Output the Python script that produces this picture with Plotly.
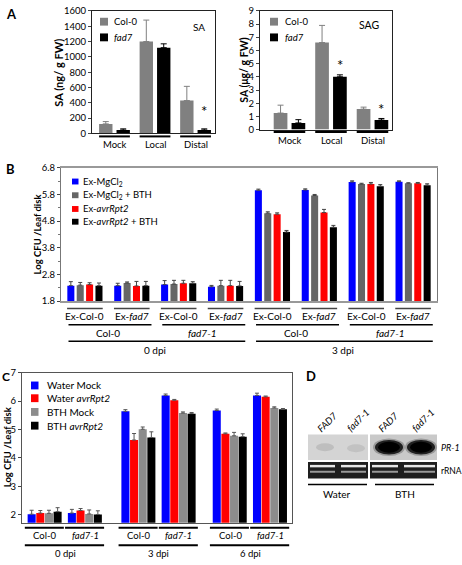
import plotly.graph_objects as go

W, H = 462, 565
FONT = "Lato"


def px(x):
    return x / W


def py(y):
    return 1 - y / H


# ---------------- Panel A data ----------------
a_groups = ["Mock", "Local", "Distal"]
a_series = ["Col-0", "<i>fad7</i>"]
sa_col0 = [125, 1200, 430]
sa_col0_err = [30, 280, 185]
sa_fad7 = [45, 1120, 45]
sa_fad7_err = [15, 50, 15]
sag_col0 = [1.25, 6.6, 1.55]
sag_col0_err = [0.6, 1.3, 0.15]
sag_fad7 = [0.5, 4.0, 0.72]
sag_fad7_err = [0.25, 0.15, 0.12]

# ---------------- Panel B data ----------------
b_series = ["Ex-MgCl<sub>2</sub>", "Ex-MgCl<sub>2</sub> + BTH",
            "Ex-<i>avrRpt2</i>", "Ex-<i>avrRpt2</i> + BTH"]
b_exudate = ["Ex-Col-0", "Ex-<i>fad7</i>"] * 4
b_hosts = ["Col-0", "<i>fad7-1</i>", "Col-0", "<i>fad7-1</i>"]
b_dpi = ["0 dpi", "3 dpi"]
b_mgcl2 = [2.38, 2.38, 2.42, 2.34, 5.96, 5.97, 6.27, 6.28]
b_mgcl2_err = [0.15, 0.09, 0.15, 0.05, 0.04, 0.04, 0.04, 0.03]
b_mgcl2_bth = [2.40, 2.48, 2.44, 2.38, 5.10, 5.76, 6.19, 6.22]
b_mgcl2_bth_err = [0.10, 0.04, 0.14, 0.20, 0.05, 0.04, 0.03, 0.02]
b_avr = [2.42, 2.37, 2.47, 2.38, 5.06, 5.12, 6.19, 6.22]
b_avr_err = [0.07, 0.17, 0.11, 0.20, 0.05, 0.12, 0.06, 0.03]
b_avr_bth = [2.38, 2.38, 2.47, 2.37, 4.39, 4.57, 6.11, 6.15]
b_avr_bth_err = [0.10, 0.16, 0.06, 0.17, 0.06, 0.07, 0.06, 0.05]
b_ticks = [1.8, 2.8, 3.8, 4.8, 5.8, 6.8]

# ---------------- Panel C data ----------------
c_series = ["Water Mock", "Water <i>avrRpt2</i>", "BTH Mock", "BTH <i>avrRpt2</i>"]
c_hosts = ["Col-0", "<i>fad7-1</i>"] * 3
c_dpi = ["0 dpi", "3 dpi", "6 dpi"]
c_water_mock = [2.02, 2.06, 5.64, 6.20, 5.67, 6.20]
c_water_mock_err = [0.14, 0.13, 0.06, 0.05, 0.05, 0.08]
c_water_avr = [2.06, 2.15, 4.63, 6.03, 4.85, 6.15]
c_water_avr_err = [0.09, 0.07, 0.23, 0.03, 0.03, 0.03]
c_bth_mock = [2.05, 2.03, 5.01, 5.58, 4.78, 5.76]
c_bth_mock_err = [0.11, 0.14, 0.08, 0.04, 0.12, 0.04]
c_bth_avr = [2.11, 2.01, 4.72, 5.56, 4.75, 5.71]
c_bth_avr_err = [0.14, 0.13, 0.20, 0.04, 0.10, 0.03]

# ---------------- Panel D labels ----------------
d_lanes = ["FAD7", "fad7-1", "FAD7", "fad7-1"]
d_treat = ["Water", "BTH"]
d_probes = ["<i>PR-1</i>", "rRNA"]

# ---------------- layout positions (not data) ----------------
a_pos = [0, 1, 2]
b_pos = list(range(8))
c_pos = [0, 1, 2.33, 3.33, 4.6, 5.6]

fig = go.Figure()


def err(arr, color, width):
    return dict(type="data", symmetric=False, array=arr, arrayminus=[0] * len(arr),
                color=color, thickness=1, width=width, visible=True)


# Panel A bars
A_W = 0.33
A_OFF = [-0.38, 0.05]
for xa, ya, vals, errs in [("x", "y", [sa_col0, sa_fad7], [sa_col0_err, sa_fad7_err]),
                           ("x2", "y2", [sag_col0, sag_fad7], [sag_col0_err, sag_fad7_err])]:
    colors = ["#808080", "#000000"]
    ecol = ["#808080", "#000000"]
    for i in range(2):
        fig.add_trace(go.Bar(x=a_pos, y=vals[i], width=A_W, offset=A_OFF[i],
                             marker=dict(color=colors[i], line=dict(width=0)),
                             error_y=err(errs[i], ecol[i], 3),
                             xaxis=xa, yaxis=ya, showlegend=False, name=a_series[i]))

# Panel B bars
B_W = 0.15
B_OFF = [-0.375, -0.175, 0.025, 0.225]
b_colors = ["#0000ff", "#666666", "#ff0000", "#000000"]
b_vals = [b_mgcl2, b_mgcl2_bth, b_avr, b_avr_bth]
b_errs = [b_mgcl2_err, b_mgcl2_bth_err, b_avr_err, b_avr_bth_err]
for i in range(4):
    fig.add_trace(go.Bar(x=b_pos, y=b_vals[i], width=B_W, offset=B_OFF[i],
                         marker=dict(color=b_colors[i], line=dict(width=0)),
                         error_y=err(b_errs[i], "#444444", 2),
                         xaxis="x3", yaxis="y3", showlegend=False, name=b_series[i]))

# Panel C bars
C_W = 0.2
C_OFF = [-0.43, -0.215, 0.0, 0.215]
c_colors = ["#0000ff", "#ff0000", "#8c8c8c", "#000000"]
c_vals = [c_water_mock, c_water_avr, c_bth_mock, c_bth_avr]
c_errs = [c_water_mock_err, c_water_avr_err, c_bth_mock_err, c_bth_avr_err]
for i in range(4):
    fig.add_trace(go.Bar(x=c_pos, y=c_vals[i], width=C_W, offset=C_OFF[i],
                         marker=dict(color=c_colors[i], line=dict(width=0)),
                         error_y=err(c_errs[i], "#555555", 2),
                         xaxis="x4", yaxis="y4", showlegend=False, name=c_series[i]))

shapes = []
ann = []


def text(x, y, s, size=10, xanchor="center", yanchor="middle", bold=False, angle=0,
         xref="paper", yref="paper", color="black"):
    if bold:
        s = "<b>" + s + "</b>"
    ann.append(dict(x=x, y=y, xref=xref, yref=yref, text=s, showarrow=False,
                    xanchor=xanchor, yanchor=yanchor, textangle=angle,
                    font=dict(family=FONT, size=size, color=color)))


def hline(x0, x1, y, xref="paper", color="#000", width=1.5):
    shapes.append(dict(type="line", x0=x0, x1=x1, y0=py(y), y1=py(y), xref=xref,
                       yref="paper", line=dict(color=color, width=width)))


def rect(x0, y0, x1, y1, color, line=None):
    shapes.append(dict(type="rect", x0=px(x0), x1=px(x1), y0=py(y1), y1=py(y0),
                       xref="paper", yref="paper", fillcolor=color,
                       line=dict(width=0) if line is None else line, layer="above"))


def ellipse(cx, cy, rx, ry, color, opacity=1.0):
    shapes.append(dict(type="circle", x0=px(cx - rx), x1=px(cx + rx), y0=py(cy + ry),
                       y1=py(cy - ry), xref="paper", yref="paper", fillcolor=color,
                       opacity=opacity, line=dict(width=0), layer="above"))


# Panel letters
text(px(4), py(8), "A", 13, "left", bold=True)
text(px(4), py(166), "B", 13, "left", bold=True)
text(px(0), py(378), "C", 12, "left", bold=True)
text(px(304), py(377), "D", 13, "left", bold=True)

# Panel A labels
for k, g in enumerate(a_groups):
    hline(a_pos[k] + A_OFF[0], a_pos[k] + A_OFF[1] + A_W, 133, xref="x", width=2)
    text(a_pos[k] + 0.02, py(141), g, 9.5, xref="x")
    hline(a_pos[k] + A_OFF[0], a_pos[k] + A_OFF[1] + A_W, 128.5, xref="x2", width=2)
    text(a_pos[k] + 0.02, py(137), g, 9.5, xref="x2")
text(px(59), py(68), "SA (ng/ g FW)", 11, bold=True, angle=-90)
text(px(244), py(66), "SA (\u03bcg/ g FW)", 10.5, bold=True, angle=-90)
text(px(199), py(21), "SA", 10)
text(px(369), py(19), "SAG", 10.5)
# asterisks
text(a_pos[2] + A_OFF[1] + A_W / 2, 150, "*", 15, xref="x", yref="y", yanchor="bottom")
text(a_pos[1] + A_OFF[1] + A_W / 2, 4.05, "*", 15, xref="x2", yref="y2", yanchor="bottom")
text(a_pos[2] + A_OFF[1] + A_W / 2, 0.72, "*", 15, xref="x2", yref="y2", yanchor="bottom")
# A legends
for lx, tx in [(100, 112), (270, 283)]:
    for j, (s, c) in enumerate(zip(a_series, ["#808080", "#000000"])):
        cy = 16 + 16 * j
        rect(lx, cy - 4, lx + 8, cy + 4, c)
        text(px(tx), py(cy), s, 9.5, "left")

# Panel B labels
for k in range(8):
    hline(b_pos[k] - 0.38, b_pos[k] + 0.38, 308.5, xref="x3", color="#444", width=1.5)
    text(b_pos[k], py(316.5), b_exudate[k], 10, xref="x3")
for k in range(4):
    a, b = b_pos[2 * k], b_pos[2 * k + 1]
    hline(a - 0.35, b + 0.42, 325, xref="x3", width=1.5)
    text((a + b) / 2, py(333.5), b_hosts[k], 10, xref="x3")
for k in range(2):
    a, b = b_pos[4 * k], b_pos[4 * k + 3]
    hline(a - 0.35, b + 0.42, 342, xref="x3", width=1.5)
    text((a + b) / 2, py(351), b_dpi[k], 10, xref="x3")
text(px(37), py(233), "Log CFU /Leaf disk", 9.5, bold=True, angle=-90)
for j, (s, c) in enumerate(zip(b_series, b_colors)):
    cy = [179, 193, 207, 220][j]
    rect(72, cy - 3, 78.5, cy + 3, c)
    text(px(81), py(cy), s, 9.5, "left")

# Panel C labels
for k in range(6):
    hline(c_pos[k] - 0.5, c_pos[k] + 0.47, 532, xref="x4", width=2)
    text(c_pos[k], py(540), c_hosts[k], 9.5, xref="x4")
for k in range(3):
    a, b = c_pos[2 * k], c_pos[2 * k + 1]
    hline(a - 0.5, b + 0.47, 550, xref="x4", width=2)
    text((a + b) / 2, py(558.5), c_dpi[k], 9.5, xref="x4")
text(px(7), py(450), "Log CFU /Leaf disk", 9.5, bold=True, angle=-90)
for j, (s, c) in enumerate(zip(c_series, c_colors)):
    cy = [387, 400, 414, 428][j]
    rect(31, cy - 4, 38.5, cy + 4, c)
    text(px(45), py(cy), s, 10, "left")

# Panel D (blot drawn with shapes)
rect(308, 437, 368, 463, "#d4d4d4")
rect(370, 437, 437, 463, "#c9c9c9")
ellipse(325, 450, 9, 4, "#b8b8b8", 0.8)
ellipse(356, 451, 9, 4, "#bdbdbd", 0.8)
for cx in [389, 421]:
    ellipse(cx, 450, 16, 9, "#7a7a7a", 0.6)
    ellipse(cx, 450, 14, 7.5, "#202020", 1.0)
    ellipse(cx, 450, 11, 5.5, "#000000", 1.0)
rect(308, 465, 368, 482, "#1e1e1e")
rect(370, 465, 437, 482, "#1e1e1e")
for x0, x1 in [(308, 337), (339, 368), (370, 400), (402, 437)]:
    rect(x0 + 2, 468, x1 - 2, 470.5, "#e6e6e6")
    rect(x0 + 2, 474, x1 - 2, 476, "#9a9a9a")
text(px(439), py(450), d_probes[0], 9, "left")
text(px(438.5), py(474), d_probes[1], 8.5, "left")
hline(px(308), px(367), 488, width=1.5)
hline(px(375), px(434), 488, width=1.5)
text(px(337), py(498), d_treat[0], 10)
text(px(405), py(498), d_treat[1], 10)
for cx, cy, s in zip([327, 358, 388, 423], [425, 423, 425, 423], d_lanes):
    text(px(cx), py(cy), "<i>" + s + "</i>", 9.5, angle=-45)

axis_common = dict(showgrid=False, zeroline=False, mirror=True, showline=True,
                   ticks="outside", tickfont=dict(family=FONT, size=9.5, color="#000"))

fig.update_layout(
    width=W, height=H, margin=dict(l=0, r=0, t=0, b=0),
    paper_bgcolor="white", plot_bgcolor="white", barmode="overlay",
    font=dict(family=FONT, color="#000"),
    xaxis=dict(domain=[px(92), px(215)], range=[-0.555, 2.48], anchor="y",
               showgrid=False, zeroline=False, showline=True, mirror=True,
               linecolor="#222", linewidth=1, showticklabels=False, ticks=""),
    yaxis=dict(domain=[py(130), py(5)], range=[0, 1600], anchor="x", dtick=200,
               linecolor="#222", linewidth=1, ticklen=3, **axis_common),
    xaxis2=dict(domain=[px(260), px(392)], range=[-0.71, 2.47], anchor="y2",
                showgrid=False, zeroline=False, showline=True, mirror=True,
                linecolor="#222", linewidth=1, showticklabels=False, ticks=""),
    yaxis2=dict(domain=[py(126), py(5)], range=[0, 9], anchor="x2", dtick=1,
                linecolor="#222", linewidth=1, ticklen=3, **axis_common),
    xaxis3=dict(domain=[px(61), px(437)], range=[-0.51, 7.51], anchor="y3",
                showgrid=False, zeroline=False, showline=True, mirror=True,
                linecolor="#999", linewidth=1.5, showticklabels=False, ticks=""),
    yaxis3=dict(domain=[py(301), py(165)], range=[1.8, 6.8], anchor="x3",
                tickvals=b_ticks, ticktext=[f"{t:.1f}" for t in b_ticks],
                linecolor="#777", linewidth=1, ticklen=3,
                minor=dict(ticks="outside", dtick=0.5, tick0=1.8, ticklen=2, tickcolor="#777"),
                **axis_common),
    xaxis4=dict(domain=[px(22), px(292)], range=[-0.57, 6.14], anchor="y4",
                showgrid=False, zeroline=False, showline=True, mirror=True,
                linecolor="#555", linewidth=1, showticklabels=False, ticks=""),
    yaxis4=dict(domain=[py(527), py(374)], range=[1.72, 7.0], anchor="x4", dtick=1,
                linecolor="#555", linewidth=1, ticklen=3, **axis_common),
    shapes=shapes, annotations=ann,
)

fig.write_html("out.html", config={"displayModeBar": False},
               post_script="document.body.style.margin='0';document.body.style.overflow='hidden';")
